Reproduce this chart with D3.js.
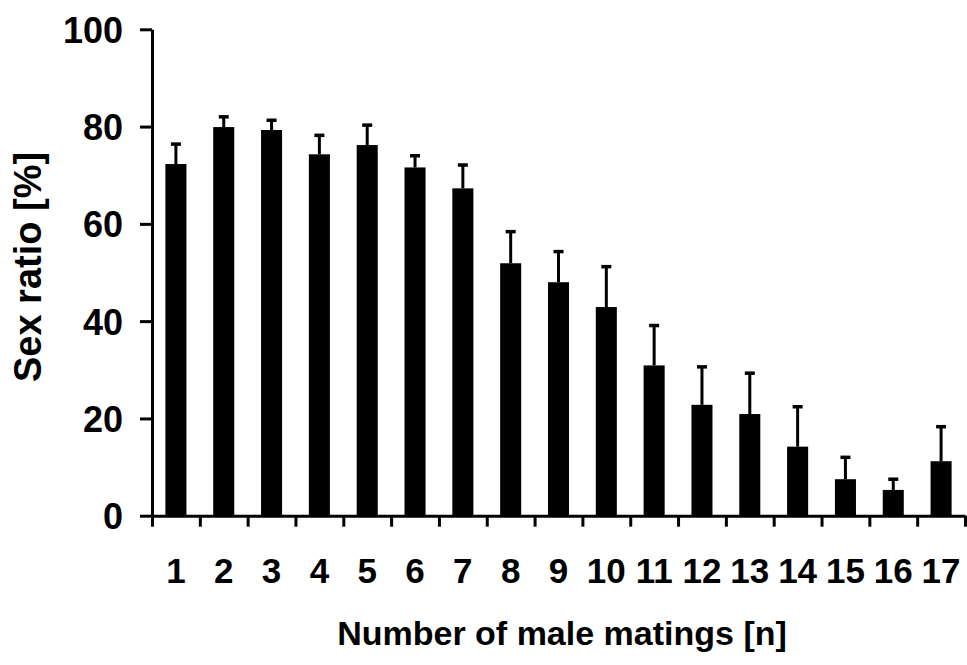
<!DOCTYPE html>
<html>
<head>
<meta charset="utf-8">
<script src="https://cdn.jsdelivr.net/npm/d3@7"></script>
<style>
  body { margin: 0; background: #fff; }
  svg text { font-family: "Liberation Sans", Arial, sans-serif; font-weight: bold; fill: #000; }
</style>
</head>
<body>
<div id="chart"></div>
<script>
// podaci
const matings = ["1","2","3","4","5","6","7","8","9","10","11","12","13","14","15","16","17"];
const sexRatio = [72.3, 79.9, 79.3, 74.3, 76.2, 71.6, 67.3, 51.9, 48.0, 42.9, 30.9, 22.8, 20.9, 14.2, 7.5, 5.3, 11.2];
const errUp = [4.1, 2.1, 2.0, 3.9, 4.1, 2.4, 4.8, 6.5, 6.3, 8.3, 8.2, 7.8, 8.4, 8.2, 4.5, 2.2, 7.1];
const yTicks = [0, 20, 40, 60, 80, 100];

const width = 967, height = 665;
const plotLeft = 152, plotRight = 965, plotTop = 29.3, plotBottom = 515.7;

const svg = d3.select("#chart").append("svg")
    .attr("width", width)
    .attr("height", height);

const x = d3.scaleBand()
    .domain(matings)
    .range([plotLeft, plotRight])
    .paddingInner(0.56)
    .paddingOuter(0.28);

const xEdges = d3.scaleLinear().domain([0, matings.length]).range([plotLeft, plotRight]);

const y = d3.scaleLinear().domain([0, 100]).range([plotBottom, plotTop]);

// stupci
svg.selectAll("rect.bar")
    .data(sexRatio)
    .enter()
    .append("rect")
    .attr("class", "bar")
    .attr("x", (d, i) => x(matings[i]))
    .attr("width", x.bandwidth())
    .attr("y", d => y(d))
    .attr("height", d => y(0) - y(d))
    .attr("fill", "#000");

// greske (samo gore)
const cx = i => x(matings[i]) + x.bandwidth() / 2;

svg.selectAll("line.err")
    .data(sexRatio)
    .enter()
    .append("line")
    .attr("class", "err")
    .attr("x1", (d, i) => cx(i))
    .attr("x2", (d, i) => cx(i))
    .attr("y1", d => y(d))
    .attr("y2", (d, i) => y(d + errUp[i]))
    .attr("stroke", "#000")
    .attr("stroke-width", 3);

svg.selectAll("line.cap")
    .data(sexRatio)
    .enter()
    .append("line")
    .attr("class", "cap")
    .attr("x1", (d, i) => cx(i) - 5)
    .attr("x2", (d, i) => cx(i) + 5)
    .attr("y1", (d, i) => y(d + errUp[i]))
    .attr("y2", (d, i) => y(d + errUp[i]))
    .attr("stroke", "#000")
    .attr("stroke-width", 3.5);

// osi
const yAxis = svg.append("g")
    .attr("transform", `translate(${plotLeft},0)`)
    .call(d3.axisLeft(y).tickValues(yTicks).tickSize(12).tickSizeOuter(0).tickPadding(17));
yAxis.select(".domain").attr("stroke-width", 3);
yAxis.selectAll(".tick line").attr("stroke-width", 3);
yAxis.selectAll(".tick text").attr("font-size", 36).attr("dy", "0.36em");

const xTickAxis = svg.append("g")
    .attr("transform", `translate(0,${plotBottom})`)
    .call(d3.axisBottom(xEdges).tickValues(d3.range(matings.length + 1)).tickSize(11).tickSizeOuter(0).tickFormat(""));
xTickAxis.select(".domain").attr("stroke-width", 3);
xTickAxis.selectAll(".tick line").attr("stroke-width", 3);

const xLabels = svg.append("g")
    .attr("transform", `translate(0,${plotBottom})`)
    .call(d3.axisBottom(x).tickSize(0).tickPadding(42));
xLabels.select(".domain").remove();
xLabels.selectAll(".tick text").attr("font-size", 35);

// naslovi osi
svg.append("text")
    .attr("x", 562)
    .attr("y", 645)
    .attr("text-anchor", "middle")
    .attr("font-size", 34)
    .text("Number of male matings [n]");

svg.append("text")
    .attr("transform", "translate(41,267) rotate(-90)")
    .attr("text-anchor", "middle")
    .attr("font-size", 38)
    .text("Sex ratio [%]");
</script>
</body>
</html>
